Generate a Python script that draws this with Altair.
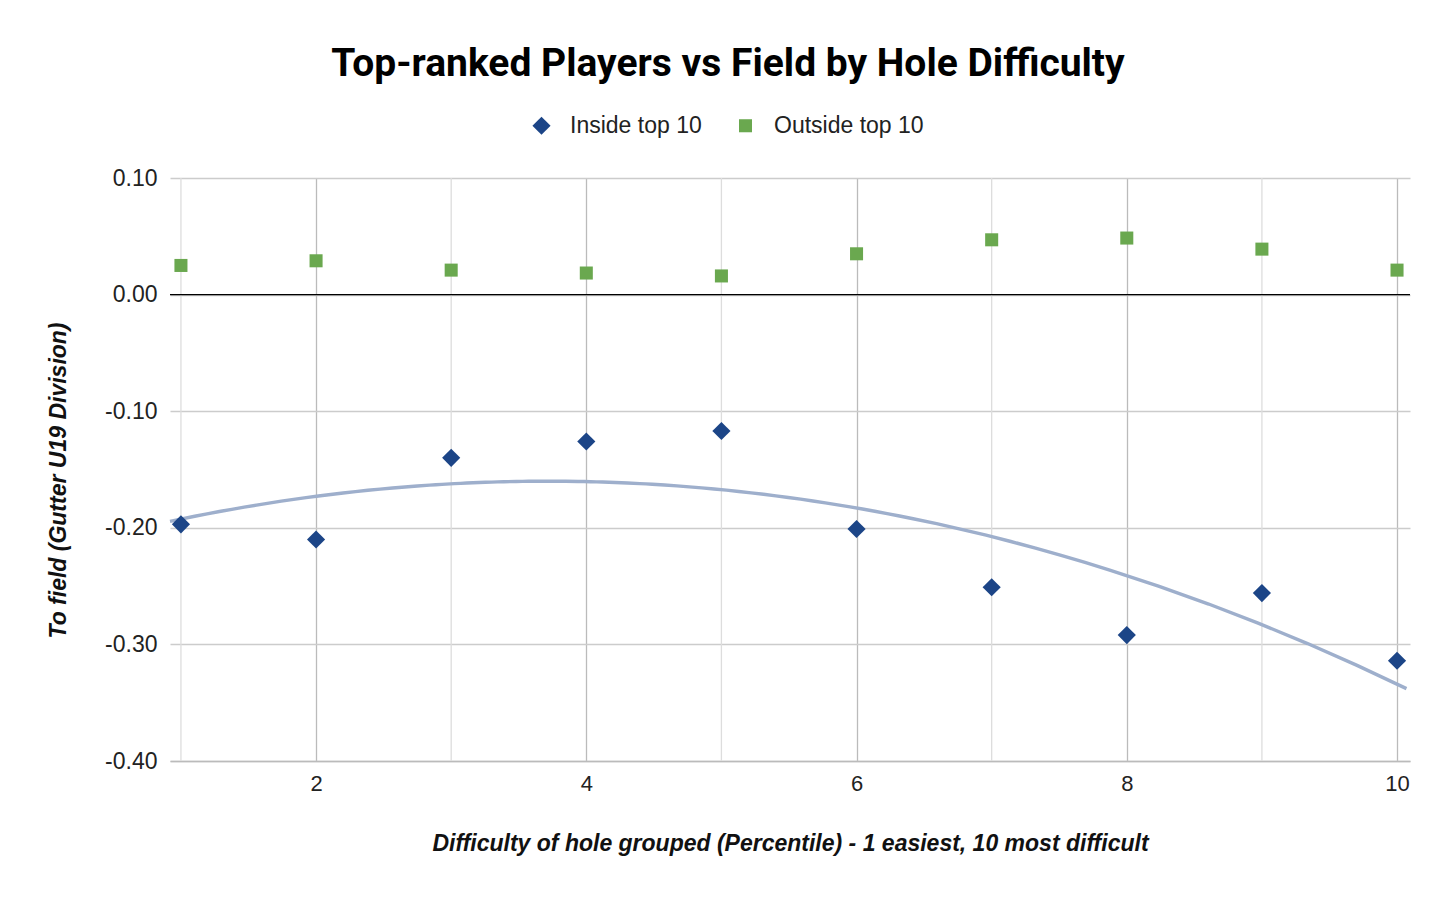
import altair as alt
import pandas as pd

groups = [1, 2, 3, 4, 5, 6, 7, 8, 9, 10]
inside_top10 = [-0.197, -0.210, -0.140, -0.126, -0.117, -0.201, -0.251, -0.292, -0.256, -0.314]
outside_top10 = [0.025, 0.029, 0.021, 0.0185, 0.016, 0.035, 0.047, 0.0485, 0.039, 0.021]
series_names = ["Inside top 10", "Outside top 10"]
y_ticks = [-0.4, -0.3, -0.2, -0.1, 0.0, 0.1]
x_major = [2, 4, 6, 8, 10]
x_minor = [1, 3, 5, 7, 9]

rows = []
for g, v in zip(groups, inside_top10):
    rows.append({"group": g, "value": v, "series": series_names[0]})
for g, v in zip(groups, outside_top10):
    rows.append({"group": g, "value": v, "series": series_names[1]})
df = pd.DataFrame(rows)
df_inside = df[df.series == series_names[0]]

FONT = "Liberation Sans"
XDOM = [0.919, 10.096]
YDOM = [-0.4, 0.1]

xs = alt.Scale(domain=XDOM, nice=False, zero=False)
ys = alt.Scale(domain=YDOM, nice=False, zero=False)

x_axis = alt.Axis(values=x_major, grid=True, gridColor="#bbbbbb", gridWidth=1.3,
                  domain=True, domainColor="#bbbbbb", domainWidth=1.5,
                  ticks=False, labelPadding=12, labelFontSize=22, labelFont=FONT,
                  labelColor="#222222",
                  title="Difficulty of hole grouped (Percentile) - 1 easiest, 10 most difficult",
                  titleFont=FONT, titleFontSize=23, titleFontStyle="italic",
                  titleFontWeight="bold", titlePadding=38, titleColor="#111111")
y_axis = alt.Axis(values=y_ticks, grid=True, gridColor="#cccccc",
                  labelExpr="(datum.value < 0 ? '-' : '') + format(abs(datum.value), '.2f')",
                  gridWidth=1.3, domain=False, ticks=False, labelPadding=13,
                  labelFontSize=23, labelFont=FONT, labelColor="#222222",
                  title="To field (Gutter U19 Division)", titleFont=FONT,
                  titleFontSize=23, titleFontStyle="italic", titleFontWeight="bold",
                  titlePadding=34, titleY=302, titleColor="#111111")

base_axes = alt.Chart(df).mark_point(opacity=0).encode(
    x=alt.X("group:Q", scale=xs, axis=x_axis),
    y=alt.Y("value:Q", scale=ys, axis=y_axis),
)

minor_grid = alt.Chart(pd.DataFrame({"g": x_minor})).mark_rule(
    color="#dddddd", strokeWidth=1.3
).encode(x=alt.X("g:Q", scale=xs, axis=x_axis))

zero_line = alt.Chart(pd.DataFrame({"z": [0.0]})).mark_rule(
    color="#000000", strokeWidth=1.3
).encode(y=alt.Y("z:Q", scale=ys, axis=y_axis))

trend = alt.Chart(df_inside).transform_regression(
    "group", "value", method="poly", order=2, extent=[0.919, 10.07]
).mark_line(color="#9eafcc", strokeWidth=3.4).encode(
    x=alt.X("group:Q", scale=xs, axis=x_axis),
    y=alt.Y("value:Q", scale=ys, axis=y_axis),
)

points = alt.Chart(df).mark_point(filled=True, opacity=1).encode(
    x=alt.X("group:Q", scale=xs, axis=x_axis),
    y=alt.Y("value:Q", scale=ys, axis=y_axis),
    color=alt.Color("series:N",
                    scale=alt.Scale(domain=series_names, range=["#1c4587", "#6aa84f"]),
                    legend=alt.Legend(orient="none", legendX=360, legendY=-64,
                                      direction="horizontal", title=None,
                                      labelFont=FONT, labelFontSize=23, labelColor="#222222",
                                      symbolSize=360, columnPadding=32, labelOffset=17,
                                      symbolStrokeWidth=0)),
    shape=alt.Shape("series:N",
                    scale=alt.Scale(domain=series_names, range=["diamond", "square"]),
                    legend=None),
    size=alt.Size("series:N",
                  scale=alt.Scale(domain=series_names, range=[330, 170]),
                  legend=None),
)

chart = alt.layer(base_axes, minor_grid, zero_line, trend, points).properties(
    width=1240, height=583,
    title=alt.TitleParams(
        "Top-ranked Players vs Field by Hole Difficulty",
        font="Roboto", fontSize=39, fontWeight="bold", color="#000000",
        anchor="middle", dx=-62, offset=30,
    ),
    padding={"left": 162, "top": 170, "right": 38, "bottom": 120},
    autosize=alt.AutoSizeParams(type="none"),
    background="white",
).configure_view(stroke=None)

chart.save("out.html", embed_options={"renderer": "svg", "actions": False})
